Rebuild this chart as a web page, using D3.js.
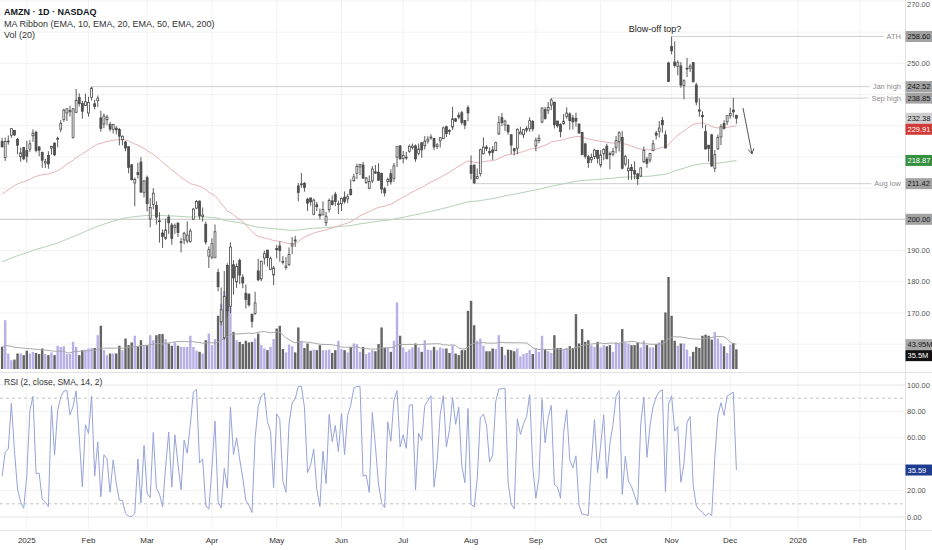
<!DOCTYPE html>
<html>
<head>
<meta charset="utf-8">
<script src="https://cdn.jsdelivr.net/npm/d3@7"></script>
<style>
  body { margin: 0; background: #fff; }
  svg { display: block; font-family: "Liberation Sans", Arial, sans-serif; }
</style>
</head>
<body>
<svg id="chart"></svg>
<script>
// Daily bars, first one is 19 Dec 2024 (bar index -8), last one 3 Dec 2025 (index 230)
var firstBar = -8;
var opens = [224.91, 219.84, 225.01, 226.94, 228.50, 225.60, 220.06, 222.97,
    222.03, 222.51, 226.78, 227.90, 223.19, 221.46, 218.06, 220.44, 222.83, 224.42, 225.84, 228.90, 232.02, 234.10, 234.50, 226.21, 234.29, 239.02, 237.14, 236.50,
    234.06, 239.01, 237.02, 238.01, 232.50, 230.55, 231.92, 230.46, 228.85, 229.20, 228.82, 225.52, 224.78, 223.28, 217.45, 211.63, 214.94, 218.35, 208.65,
    213.35, 200.11, 204.80, 204.40, 199.49, 195.60, 193.90, 200.72, 198.17, 197.41, 198.77, 192.52, 193.38, 193.07, 192.90, 200.00, 203.60, 205.84, 200.89, 198.42, 188.19,
    187.86, 187.66, 183.00, 167.15, 162.00, 185.23, 172.12, 185.44, 179.93, 186.84, 181.41, 176.29, 176.00, 169.60, 169.85, 183.45, 180.92, 187.62, 190.11, 183.99, 182.17,
    190.63, 191.44, 186.51, 184.57, 185.56, 191.43, 193.38, 210.71, 211.08, 211.45, 206.45, 206.85, 201.65, 204.63, 201.61, 201.38, 198.90, 203.09, 205.92, 208.03, 204.84,
    204.98, 207.11, 206.55, 209.55, 212.40, 214.75, 216.78, 217.41, 211.78, 209.96, 212.31, 215.19, 215.09, 214.68, 209.79, 212.14, 214.62, 213.12, 219.92, 223.52,
    219.50, 219.73, 221.82, 223.00, 223.52, 221.07, 224.55, 223.58, 225.07, 226.20, 225.88, 223.32, 225.14, 225.84, 229.68, 228.47, 229.57, 232.22, 233.35, 234.15, 231.64, 235.77,
    217.21, 217.40, 213.05, 214.70, 221.00, 223.14, 221.78, 222.23, 222.00, 227.40, 232.58, 230.23, 230.09, 227.12, 222.65, 222.79, 227.35, 227.11, 228.57, 229.01, 231.32,
    223.52, 225.21, 231.19, 235.19, 234.94, 236.60, 237.52, 231.49, 230.35, 230.63, 232.94, 233.77, 232.50, 232.37, 230.56, 227.83, 224.15, 220.06, 219.08, 220.08, 222.03,
    217.36, 221.01, 223.44, 221.00, 220.88, 222.92, 224.99, 226.21, 217.70, 215.56, 216.62, 215.67, 214.56, 213.88, 218.43, 219.30, 219.00, 221.97, 227.66, 228.22, 231.67, 227.06, 250.10,
    255.36, 250.38, 249.03, 249.16, 242.90, 248.34, 248.41, 250.24, 243.05, 235.06, 233.25, 228.10, 223.74, 227.05, 216.35, 222.56, 226.38, 230.74, 231.24,
    233.22, 235.01, 233.35];
var highs = [226.09, 226.21, 226.88, 229.14, 228.50, 226.03, 223.00, 223.23,
    225.15, 225.36, 228.84, 228.38, 223.52, 221.71, 219.40, 221.82, 223.57, 224.65, 226.51, 231.78, 235.44, 235.52, 236.40, 235.61, 241.77, 240.39, 237.95, 240.29,
    239.25, 242.52, 238.32, 239.66, 234.81, 233.92, 233.44, 231.18, 230.42, 229.89, 229.30, 226.83, 225.13, 223.31, 217.72, 213.34, 218.16, 219.97, 212.62,
    214.01, 206.80, 209.98, 205.77, 202.27, 196.73, 200.18, 201.52, 198.88, 198.65, 199.00, 194.00, 195.97, 199.32, 196.99, 203.64, 206.21, 206.01, 203.79, 199.26, 191.33,
    193.93, 198.34, 184.13, 178.14, 183.41, 185.90, 192.65, 186.87, 185.86, 187.44, 182.35, 179.10, 176.21, 169.60, 176.78, 187.38, 186.74, 189.94, 190.22, 188.02, 185.05,
    191.81, 192.88, 188.18, 187.93, 190.99, 194.33, 194.69, 211.66, 214.84, 211.93, 206.88, 206.85, 206.62, 205.59, 203.46, 205.76, 202.37, 206.69, 207.66, 208.81, 205.99,
    207.00, 208.95, 208.18, 212.81, 214.56, 217.85, 217.69, 218.40, 213.58, 214.05, 217.06, 217.41, 217.96, 214.89, 210.39, 213.34, 216.03, 218.04, 223.30, 223.82,
    221.88, 221.60, 224.01, 224.29, 224.00, 224.29, 224.55, 226.68, 226.66, 227.27, 226.10, 224.50, 226.40, 229.69, 230.00, 228.79, 236.00, 232.48, 234.29, 234.72, 231.80, 236.53,
    220.44, 217.44, 216.30, 222.65, 226.22, 223.80, 223.05, 223.50, 224.92, 233.11, 234.08, 231.91, 230.53, 227.27, 222.78, 229.14, 229.60, 229.00, 229.87, 232.71, 231.81,
    226.17, 227.17, 235.77, 236.00, 237.60, 238.85, 237.68, 231.53, 230.79, 233.73, 235.90, 234.30, 233.48, 234.16, 230.57, 227.86, 224.56, 220.67, 221.05, 222.60, 222.24,
    222.15, 222.81, 224.20, 221.73, 222.89, 226.73, 228.21, 228.25, 220.68, 219.32, 217.71, 218.59, 214.80, 216.69, 223.32, 220.01, 221.30, 225.40, 228.40, 231.49, 232.82, 228.44, 250.50,
    258.60, 257.01, 251.00, 250.38, 244.90, 251.75, 249.75, 250.37, 243.75, 238.73, 234.60, 230.20, 223.74, 227.41, 222.21, 227.20, 230.52, 231.75, 233.29,
    235.80, 238.97, 233.44];
var lows = [222.92, 218.73, 223.90, 226.13, 226.67, 220.90, 218.43, 218.94,
    218.19, 221.62, 224.84, 221.46, 220.20, 216.50, 216.47, 216.20, 220.75, 220.31, 223.08, 227.93, 231.19, 231.51, 232.93, 225.86, 233.98, 236.15, 232.22, 236.41,
    232.90, 238.03, 235.20, 236.01, 228.06, 229.20, 230.13, 228.16, 227.52, 227.23, 223.72, 223.71, 221.81, 214.74, 212.42, 204.16, 213.09, 208.37, 206.99,
    202.55, 197.43, 203.26, 198.30, 192.53, 190.85, 193.40, 195.29, 191.82, 195.32, 194.32, 189.38, 191.96, 192.30, 192.52, 199.95, 203.22, 199.93, 199.28, 191.88, 184.40,
    187.20, 187.66, 176.92, 166.00, 161.38, 168.57, 169.93, 175.85, 178.00, 179.23, 177.93, 171.41, 172.00, 165.29, 169.35, 180.19, 180.18, 185.49, 184.89, 183.68, 178.85,
    187.50, 186.40, 185.53, 183.85, 185.01, 188.82, 191.16, 205.75, 210.10, 208.85, 202.67, 204.37, 201.26, 202.65, 200.06, 201.38, 197.85, 202.19, 204.41, 204.23, 201.70,
    202.68, 205.03, 205.18, 207.56, 212.01, 212.88, 214.15, 212.89, 211.33, 209.62, 211.60, 214.56, 212.34, 208.27, 207.31, 210.63, 211.11, 212.01, 216.74, 219.12,
    217.93, 219.06, 221.36, 222.37, 218.43, 220.47, 219.71, 222.37, 224.24, 225.46, 222.18, 222.51, 222.98, 225.72, 226.35, 227.09, 228.64, 231.18, 232.07, 230.31, 228.89, 231.40,
    212.80, 211.42, 212.87, 213.74, 220.82, 221.88, 220.40, 219.05, 222.00, 227.02, 229.81, 228.33, 227.12, 220.92, 220.50, 220.82, 227.31, 226.02, 227.81, 228.02, 228.16,
    221.83, 224.36, 230.78, 231.93, 233.75, 235.02, 229.10, 229.34, 226.29, 230.32, 232.23, 228.71, 228.79, 229.70, 227.51, 220.70, 219.45, 216.47, 218.02, 219.30, 217.89,
    216.61, 218.95, 219.13, 216.03, 220.17, 221.19, 221.75, 216.00, 217.04, 212.60, 212.66, 212.81, 211.03, 213.59, 217.99, 216.52, 218.18, 221.90, 225.54, 226.21, 227.76, 222.75, 243.98,
    252.90, 248.66, 246.16, 242.17, 238.49, 245.59, 247.23, 243.75, 236.50, 232.89, 229.16, 222.42, 218.52, 216.74, 215.18, 222.30, 223.80, 228.77, 230.22,
    232.25, 232.63, 230.61];
var closes = [223.29, 224.92, 225.06, 229.05, 227.05, 223.75, 221.30, 219.39,
    220.22, 224.19, 227.61, 222.11, 222.13, 218.94, 218.46, 217.76, 223.35, 220.66, 225.94, 230.71, 235.01, 235.42, 234.85, 235.42, 238.15, 237.07, 234.64, 237.68,
    237.42, 242.06, 236.17, 238.83, 229.15, 233.14, 232.76, 228.93, 230.37, 228.68, 226.65, 226.63, 222.88, 216.58, 212.71, 212.80, 214.35, 208.74, 212.28,
    205.02, 203.80, 208.36, 200.70, 199.25, 194.54, 196.59, 198.89, 193.89, 197.95, 195.74, 192.82, 195.54, 194.95, 196.21, 203.26, 205.71, 201.13, 201.36, 192.72, 190.26,
    192.17, 196.01, 178.41, 171.00, 175.26, 170.66, 191.10, 181.22, 184.87, 182.12, 179.59, 174.33, 172.61, 167.32, 173.18, 180.60, 186.54, 188.99, 187.70, 187.39, 184.42,
    190.20, 189.98, 186.35, 185.01, 188.71, 192.08, 193.06, 208.64, 211.37, 210.25, 205.17, 205.59, 206.16, 204.07, 201.12, 203.10, 200.99, 206.02, 204.72, 205.70, 205.01,
    206.65, 205.71, 207.23, 207.91, 213.57, 216.98, 217.61, 213.20, 213.24, 212.10, 216.10, 214.82, 212.52, 209.69, 208.47, 212.77, 211.99, 217.12, 223.30, 219.39,
    220.46, 219.92, 223.41, 223.47, 219.36, 222.54, 222.26, 225.02, 225.69, 226.35, 223.19, 223.88, 226.13, 229.30, 227.47, 228.29, 232.23, 231.44, 232.79, 231.01, 230.19, 234.11,
    214.75, 211.65, 213.75, 222.31, 223.13, 222.69, 221.30, 221.47, 224.56, 230.98, 231.03, 231.49, 228.01, 223.81, 221.95, 228.84, 227.94, 228.71, 229.12, 231.60, 229.00,
    225.34, 225.99, 235.68, 232.33, 235.84, 238.24, 230.33, 229.95, 228.15, 231.43, 234.05, 231.62, 231.23, 231.48, 227.63, 220.71, 220.21, 218.15, 219.78, 222.17, 219.57,
    220.63, 222.41, 219.51, 220.90, 221.78, 225.22, 227.74, 216.37, 220.07, 216.39, 215.57, 214.47, 213.04, 216.48, 222.03, 217.95, 221.09, 224.21, 226.97, 229.25, 230.30, 222.86, 244.22,
    254.00, 249.32, 250.20, 243.04, 244.41, 248.40, 249.10, 244.20, 237.58, 234.69, 232.87, 222.55, 222.69, 217.14, 220.69, 226.28, 229.67, 229.16, 233.22,
    233.88, 234.42, 232.38];
// volume in millions
var volumes = [40, 88, 28, 16, 17, 28, 28, 25,
    33, 28, 31, 29, 27, 37, 27, 25, 30, 25, 42, 40, 41, 27, 27, 49, 40, 25, 34, 35,
    37, 38, 38, 61, 78, 34, 25, 28, 28, 28, 42, 34, 55, 43, 48, 60, 40, 52, 43,
    43, 61, 52, 61, 63, 63, 54, 46, 42, 48, 42, 40, 40, 40, 60, 40, 33, 31, 28, 52, 64,
    43, 54, 96, 117, 141, 107, 116, 67, 52, 49, 45, 51, 48, 49, 55, 64, 43, 37, 34, 40, 54,
    73, 78, 36, 30, 44, 41, 30, 75, 51, 38, 46, 33, 35, 34, 43, 34, 34, 35, 29, 34, 51,
    36, 34, 30, 40, 46, 45, 31, 40, 27, 30, 34, 32, 45, 75, 38, 38, 31, 51, 120, 60,
    39, 31, 35, 39, 46, 39, 31, 52, 35, 34, 40, 34, 39, 37, 37, 29, 43, 28, 25, 34, 34, 105,
    123, 79, 51, 55, 42, 32, 32, 37, 36, 61, 40, 25, 35, 34, 32, 37, 23, 27, 29, 34, 27,
    37, 31, 60, 36, 32, 29, 61, 38, 38, 35, 38, 41, 38, 99, 46, 72, 49, 52, 43, 40, 49,
    39, 43, 41, 43, 31, 48, 46, 72, 48, 46, 43, 43, 48, 39, 51, 43, 39, 39, 45, 48, 52, 102, 166,
    96, 51, 42, 46, 46, 35, 23, 31, 40, 38, 60, 62, 60, 53, 67, 55, 46, 41, 29,
    44, 47, 35.5];
// closes of 16-18 Dec 2024, only used to start the RSI
var priorCloses = [232.93, 231.15, 220.52];
// indicator values at the first visible bar
var ema50Start = 208.1;
var ema200Start = 186.4;
var volMaStart = 40;

// axis ticks
var priceTicks = [160, 170, 180, 190, 200, 210, 220, 230, 240, 250, 260, 270];
var rsiTicks = [0, 20, 40, 60, 80, 100];
var timeTicks = [0, 20, 39, 60, 81, 102, 122, 144, 165, 186, 209, 228, 250, 270];
var timeLabels = ["2025", "Feb", "Mar", "Apr", "May", "Jun", "Jul", "Aug", "Sep", "Oct", "Nov", "Dec", "2026", "Feb"];

// drawn levels
var levelNames = ["ATH", "Jan high", "Sep high", "Aug low"];
var levelValues = [258.60, 242.52, 238.85, 211.42];
var levelStartBars = [209, 21, 170, 145];
var roundLevel = 200;

// price tags on the right axis
var tagValues = [258.60, 242.52, 238.85, 232.38, 229.91, 218.87, 211.42, 200.00];
var tagColors = ["#a2a2a2", "#a2a2a2", "#a2a2a2", "#cfcfcf", "#d13a36", "#35913f", "#a2a2a2", "#a2a2a2"];
var tagText = ["#151515", "#151515", "#151515", "#151515", "#ffffff", "#ffffff", "#151515", "#151515"];
var volTagValues = [43.95, 35.5];
var rsiTagValue = 35.59;

const width = 932;
const height = 550;
const plotRight = 905;
const priceBottom = 372;
const rsiTop = 373;
const rsiBottom = 530;

var svg = d3.select("#chart").attr("width", width).attr("height", height);
svg.append("rect").attr("width", width).attr("height", height).attr("fill", "#fff");

var x = d3.scaleLinear().domain([0, 270]).range([26.8, 859.8]);
var y = d3.scaleLinear().domain([200, 250]).range([219.3, 63.3]);
var yVol = d3.scaleLinear().domain([0, d3.max(volumes)]).range([369, 277]);
var yRsi = d3.scaleLinear().domain([0, 100]).range([517, 385]);

var bars = closes.map(function(c, k) {
    return {i: firstBar + k, o: opens[k], h: highs[k], l: lows[k], c: c, v: volumes[k]};
});

// Function to compute an EMA of the closes, starting from the value on the first bar
function ema(values, length, start) {
    var k = 2 / (length + 1);
    var prev = start;
    return values.map(function(v, i) {
        if (i > 0) prev = prev + k * (v - prev);
        return prev;
    });
}
// Function to compute Wilder's RSI
function rsi(prior, values, length) {
    var all = prior.concat(values);
    var gains = [], losses = [];
    for (var i = 1; i < all.length; i++) {
        var d = all[i] - all[i - 1];
        gains.push(Math.max(d, 0));
        losses.push(Math.max(-d, 0));
    }
    var avgG = d3.mean(gains.slice(0, length));
    var avgL = d3.mean(losses.slice(0, length));
    var out = new Array(all.length).fill(null);
    for (var j = length; j < gains.length; j++) {
        avgG = (avgG * (length - 1) + gains[j]) / length;
        avgL = (avgL * (length - 1) + losses[j]) / length;
        out[j + 1] = avgL === 0 ? 100 : 100 - 100 / (1 + avgG / avgL);
    }
    return out.slice(prior.length);
}
var ema50 = ema(closes, 50, ema50Start);
var ema200 = ema(closes, 200, ema200Start);
var rsiValues = rsi(priorCloses, closes, 2);
var volMa = volumes.map(function(v, k) {
    var win = [];
    for (var j = k - 19; j <= k; j++) win.push(j < 0 ? volMaStart : volumes[j]);
    return d3.mean(win);
});

// tag positions, pushed down when they would overlap
var tagY = [];
var lastY = -100;
tagValues.forEach(function(v) {
    var ty = Math.max(y(v), lastY + 11);
    lastY = ty;
    tagY.push(ty);
});
var volTagY = [yVol(volTagValues[0])];
volTagY.push(Math.max(yVol(volTagValues[1]), volTagY[0] + 11));
var rsiTagY = yRsi(rsiTagValue);
var allTagY = tagY.concat(volTagY, [rsiTagY]);

// clip paths for the two panes
var defs = svg.append("defs");
defs.append("clipPath").attr("id", "clipPrice")
    .append("rect").attr("x", 0).attr("y", 0).attr("width", plotRight).attr("height", priceBottom);
defs.append("clipPath").attr("id", "clipRsi")
    .append("rect").attr("x", 0).attr("y", rsiTop).attr("width", plotRight).attr("height", rsiBottom - rsiTop);

// grid
var grid = svg.append("g");
timeTicks.forEach(function(t) {
    grid.append("line")
        .attr("x1", x(t)).attr("x2", x(t))
        .attr("y1", 0).attr("y2", rsiBottom)
        .attr("stroke", "#f2f2f2").attr("stroke-width", 1);
});
priceTicks.forEach(function(p) {
    grid.append("line")
        .attr("x1", 0).attr("x2", plotRight)
        .attr("y1", y(p)).attr("y2", y(p))
        .attr("stroke", "#f2f2f2").attr("stroke-width", 1);
});
[20, 40, 60, 80].forEach(function(r) {
    grid.append("line")
        .attr("x1", 0).attr("x2", plotRight)
        .attr("y1", yRsi(r)).attr("y2", yRsi(r))
        .attr("stroke", "#f2f2f2");
});
[0, 100].forEach(function(r) {
    grid.append("line")
        .attr("x1", 0).attr("x2", plotRight)
        .attr("y1", yRsi(r)).attr("y2", yRsi(r))
        .attr("stroke", "#e6e6e6");
});
[10, 90].forEach(function(r) {
    grid.append("line")
        .attr("x1", 0).attr("x2", plotRight)
        .attr("y1", yRsi(r)).attr("y2", yRsi(r))
        .attr("stroke", "#c4c4c4").attr("stroke-dasharray", "3,3");
});

// pane borders
svg.append("line").attr("x1", 0).attr("x2", width).attr("y1", priceBottom + 0.5).attr("y2", priceBottom + 0.5).attr("stroke", "#e2e2e2");
svg.append("line").attr("x1", 0).attr("x2", width).attr("y1", rsiBottom + 0.5).attr("y2", rsiBottom + 0.5).attr("stroke", "#e2e2e2");
svg.append("line").attr("x1", plotRight + 0.5).attr("x2", plotRight + 0.5).attr("y1", 0).attr("y2", height).attr("stroke", "#e2e2e2");

var price = svg.append("g").attr("clip-path", "url(#clipPrice)");

// volume
price.selectAll(".vol")
    .data(bars)
    .enter().append("rect")
    .attr("class", "vol")
    .attr("x", function(d) { return x(d.i) - 1.2; })
    .attr("width", 2.4)
    .attr("y", function(d) { return yVol(d.v); })
    .attr("height", function(d) { return yVol(0) - yVol(d.v); })
    .attr("fill", function(d) { return d.o > d.c ? "#646464" : "#b9afe7"; });
price.append("path")
    .datum(volMa)
    .attr("fill", "none")
    .attr("stroke", "#a8a8a8")
    .attr("stroke-width", 1)
    .attr("d", d3.line().x(function(d, k) { return x(firstBar + k); }).y(function(d) { return yVol(d); }));

// level lines
price.append("line")
    .attr("x1", 0).attr("x2", plotRight)
    .attr("y1", y(roundLevel)).attr("y2", y(roundLevel))
    .attr("stroke", "#c9c9c9");
levelNames.forEach(function(name, k) {
    var ly = y(levelValues[k]);
    var t = svg.append("text")
        .attr("x", 901).attr("y", ly + 2.6)
        .attr("text-anchor", "end")
        .attr("font-size", 7.5)
        .attr("fill", "#8d8d8d")
        .text(name);
    var tw = t.node().getComputedTextLength();
    price.append("line")
        .attr("x1", x(levelStartBars[k])).attr("x2", 901 - tw - 3)
        .attr("y1", ly).attr("y2", ly)
        .attr("stroke", "#cfcfcf");
});

// moving averages
var maLine = d3.line().x(function(d, k) { return x(firstBar + k); }).y(function(d) { return y(d); });
price.append("path").datum(ema200)
    .attr("fill", "none").attr("stroke", "#b3d2b3").attr("stroke-width", 1).attr("d", maLine);
price.append("path").datum(ema50)
    .attr("fill", "none").attr("stroke", "#e5b3b3").attr("stroke-width", 1).attr("d", maLine);

// candles
var candles = price.selectAll(".candle")
    .data(bars)
    .enter().append("g")
    .attr("class", "candle");
candles.append("line")
    .attr("x1", function(d) { return x(d.i); })
    .attr("x2", function(d) { return x(d.i); })
    .attr("y1", function(d) { return y(d.h); })
    .attr("y2", function(d) { return y(d.l); })
    .attr("stroke", "#4a4a4a")
    .attr("stroke-width", 0.9);
candles.append("rect")
    .attr("x", function(d) { return x(d.i) - 0.95; })
    .attr("width", 1.9)
    .attr("y", function(d) { return y(Math.max(d.o, d.c)); })
    .attr("height", function(d) { return Math.max(0.8, Math.abs(y(d.o) - y(d.c))); })
    .attr("fill", function(d) { return d.c < d.o ? "#525252" : "#ffffff"; })
    .attr("stroke", "#4a4a4a")
    .attr("stroke-width", 0.8);

// annotation
svg.append("text")
    .attr("x", 655).attr("y", 32)
    .attr("text-anchor", "middle")
    .attr("font-size", 9)
    .attr("fill", "#222")
    .text("Blow-off top?");
var ax1 = 743, ay1 = 108, ax2 = 752, ay2 = 154;
var ang = Math.atan2(ay2 - ay1, ax2 - ax1);
svg.append("path")
    .attr("d", "M" + ax1 + "," + ay1 + "L" + ax2 + "," + ay2 +
        "M" + (ax2 - 6 * Math.cos(ang - 0.5)) + "," + (ay2 - 6 * Math.sin(ang - 0.5)) +
        "L" + ax2 + "," + ay2 +
        "L" + (ax2 - 6 * Math.cos(ang + 0.5)) + "," + (ay2 - 6 * Math.sin(ang + 0.5)))
    .attr("fill", "none")
    .attr("stroke", "#555")
    .attr("stroke-width", 1);

// RSI
var rsiG = svg.append("g").attr("clip-path", "url(#clipRsi)");
rsiG.append("path")
    .datum(rsiValues)
    .attr("fill", "none")
    .attr("stroke", "#97a3d8")
    .attr("stroke-width", 1)
    .attr("d", d3.line()
        .defined(function(d) { return d !== null; })
        .x(function(d, k) { return x(firstBar + k); })
        .y(function(d) { return yRsi(d); }));

// legends
svg.append("text").attr("x", 4).attr("y", 15).attr("font-size", 9).attr("font-weight", 600).attr("fill", "#131722").text("AMZN · 1D · NASDAQ");
svg.append("text").attr("x", 4).attr("y", 26.5).attr("font-size", 9).attr("fill", "#333").text("MA Ribbon (EMA, 10, EMA, 20, EMA, 50, EMA, 200)");
svg.append("text").attr("x", 4).attr("y", 37.5).attr("font-size", 9).attr("fill", "#333").text("Vol (20)");
svg.append("text").attr("x", 4).attr("y", 384.8).attr("font-size", 8.5).attr("fill", "#333").text("RSI (2, close, SMA, 14, 2)");

// right axis ticks, the ones covered by a tag are left out
function freeOfTags(ty) {
    return allTagY.every(function(t) { return Math.abs(t - ty) > 10.5; });
}
var axisG = svg.append("g").attr("font-size", 7.5).attr("fill", "#555");
priceTicks.forEach(function(p) {
    var ty = Math.max(y(p), 4);
    if (!freeOfTags(ty)) return;
    axisG.append("text").attr("x", 907).attr("y", ty + 2.6).text(d3.format(".2f")(p));
});
rsiTicks.forEach(function(r) {
    if (!freeOfTags(yRsi(r))) return;
    axisG.append("text").attr("x", 907).attr("y", yRsi(r) + 2.6).text(d3.format(".2f")(r));
});

// time axis
timeTicks.forEach(function(t, k) {
    svg.append("text")
        .attr("x", x(t)).attr("y", 543)
        .attr("text-anchor", "middle")
        .attr("font-size", 8)
        .attr("fill", "#333")
        .text(timeLabels[k]);
});

// Function to draw a coloured value tag on the right axis
function drawTag(ty, label, bg, fg) {
    svg.append("rect")
        .attr("x", plotRight + 0.5).attr("y", ty - 5.5)
        .attr("width", 26.5).attr("height", 11)
        .attr("fill", bg);
    svg.append("text")
        .attr("x", 907.5).attr("y", ty + 2.7)
        .attr("font-size", 7.5)
        .attr("fill", fg)
        .text(label);
}
tagValues.forEach(function(v, k) {
    drawTag(tagY[k], d3.format(".2f")(v), tagColors[k], tagText[k]);
});
drawTag(volTagY[0], d3.format(".2f")(volTagValues[0]) + "M", "#a8a8a8", "#151515");
drawTag(volTagY[1], volTagValues[1] + "M", "#111111", "#ffffff");
drawTag(rsiTagY, d3.format(".2f")(rsiTagValue), "#1d3b8f", "#ffffff");
</script>
</body>
</html>
